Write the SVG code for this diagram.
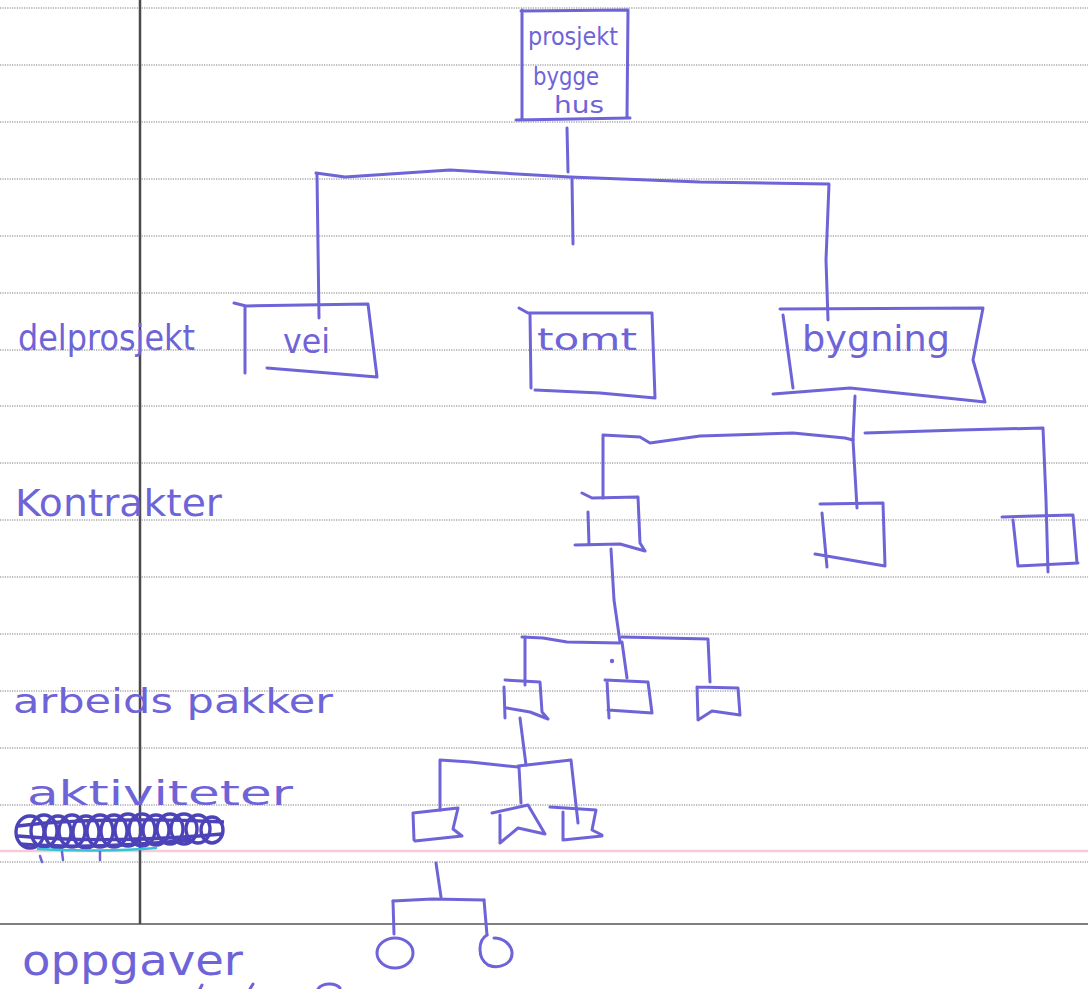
<svg xmlns="http://www.w3.org/2000/svg" width="1088" height="989" viewBox="0 0 1088 989">
  <style>
    .rule { stroke: #7a7a7a; stroke-width: 1; stroke-dasharray: 1.2 1.2; fill: none; }
    .pen { fill: none; stroke: #6e64d8; stroke-width: 3; stroke-linecap: round; stroke-linejoin: round; }
    .ink { fill: #6e64d8; font-family: "DejaVu Sans", "Noto Sans", sans-serif; }
    .scribble { fill: none; stroke: #4d43b8; stroke-width: 3.4; }
  </style>

  <!-- lined paper -->
  <g id="paper">
    <rect x="0" y="0" width="1088" height="989" fill="#ffffff"/>
    <path class="rule" d="M0,8H1088 M0,65H1088 M0,122H1088 M0,179H1088 M0,236H1088 M0,293H1088 M0,350H1088 M0,406H1088 M0,463H1088 M0,520H1088 M0,577H1088 M0,634H1088 M0,691H1088 M0,748H1088 M0,805H1088 M0,862H1088"/>
    <line x1="0" y1="851" x2="1088" y2="851" stroke="#f6cadb" stroke-width="2.5"/>
    <line x1="0" y1="924" x2="1088" y2="924" stroke="#555" stroke-width="1.5"/>
    <line x1="140" y1="0" x2="140" y2="924" stroke="#4a4a4a" stroke-width="2.5"/>
  </g>

  <!-- level names in the margin -->
  <g id="level-labels">
    <text class="ink" x="18" y="350" font-size="36" textLength="177" lengthAdjust="spacingAndGlyphs">delprosjekt</text>
    <text class="ink" x="15" y="516" font-size="38" textLength="207" lengthAdjust="spacingAndGlyphs">Kontrakter</text>
    <text class="ink" x="13" y="713" font-size="34" textLength="320" lengthAdjust="spacingAndGlyphs">arbeids pakker</text>
    <text class="ink" x="27" y="805" font-size="34" textLength="266" lengthAdjust="spacingAndGlyphs">aktiviteter</text>
    <text class="ink" x="22" y="975" font-size="42" textLength="221" lengthAdjust="spacingAndGlyphs">oppgaver</text>
  </g>

  <!-- crossed-out word -->
  <g id="scratch-out">
    <ellipse class="scribble" cx="30" cy="832" rx="14" ry="16"/>
    <ellipse class="scribble" cx="44" cy="831" rx="13" ry="16"/>
    <ellipse class="scribble" cx="58" cy="832" rx="13" ry="16"/>
    <ellipse class="scribble" cx="72" cy="831" rx="13" ry="16"/>
    <ellipse class="scribble" cx="86" cy="832" rx="13" ry="16"/>
    <ellipse class="scribble" cx="100" cy="831" rx="13" ry="16"/>
    <ellipse class="scribble" cx="114" cy="831" rx="13" ry="16"/>
    <ellipse class="scribble" cx="128" cy="830" rx="13" ry="16"/>
    <ellipse class="scribble" cx="142" cy="830" rx="13" ry="16"/>
    <ellipse class="scribble" cx="156" cy="830" rx="13" ry="15"/>
    <ellipse class="scribble" cx="170" cy="829" rx="13" ry="15"/>
    <ellipse class="scribble" cx="184" cy="829" rx="13" ry="15"/>
    <ellipse class="scribble" cx="198" cy="829" rx="12" ry="14"/>
    <ellipse class="scribble" cx="212" cy="830" rx="11" ry="13"/>
    <path class="scribble" d="M18,826 C60,820 150,818 224,822 M18,836 C80,842 160,840 222,834 M20,844 C70,848 130,846 190,840"/>
    <path d="M38,849 C70,851 120,851 156,848" fill="none" stroke="#35c4d4" stroke-width="2.5" stroke-linecap="round"/>
    <path d="M40,856 l2,6 M62,852 l1,8 M100,852 l0,8" fill="none" stroke="#6e64d8" stroke-width="2.5" stroke-linecap="round"/>
  </g>

  <!-- tree connectors -->
  <g id="connectors" class="pen">
    <!-- project to sub-projects -->
    <path d="M567,128 L568,172"/>
    <path d="M316,173 L345,177 L450,170 L570,177 L700,182 L828,184"/>
    <path d="M572,179 L573,244"/>
    <path d="M317,174 L319,318"/>
    <path d="M829,184 L826,260 L828,320"/>
    <!-- building to contracts -->
    <path d="M855,396 L853,440"/>
    <path d="M853,440 L845,438 L793,433 L700,436 L650,443 L640,437 L603,435 L603,498"/>
    <path d="M853,440 L857,508"/>
    <path d="M865,433 L960,430 L1043,428 L1046,500 L1048,572"/>
    <!-- contract to work packages -->
    <path d="M611,549 L614,600 L620,642"/>
    <path d="M620,643 L567,642 L543,638 L522,637"/>
    <path d="M525,637 L525,685"/>
    <path d="M622,637 L708,639 L710,682"/>
    <path d="M622,642 L627,678"/>
    <!-- work package to activities -->
    <path d="M520,718 L526,765"/>
    <path d="M518,767 L470,762 L440,760 L440,810"/>
    <path d="M518,766 L571,760 L578,823"/>
    <path d="M519,767 L521,803"/>
    <!-- activity to tasks -->
    <path d="M436,863 L441,897"/>
    <path d="M393,901 L432,899 L484,900"/>
    <path d="M393,901 L394,934"/>
    <path d="M484,900 L487,935"/>
  </g>

  <g id="node-root">
    <path class="pen" d="M521,11 L628,10 L627,117 M516,120 L630,118 M522,10 L522,120"/>
    <text class="ink" x="528" y="45" font-size="24" textLength="90" lengthAdjust="spacingAndGlyphs">prosjekt</text>
    <text class="ink" x="533" y="85" font-size="24" textLength="66" lengthAdjust="spacingAndGlyphs">bygge</text>
    <text class="ink" x="554" y="113" font-size="23" textLength="50" lengthAdjust="spacingAndGlyphs">hus</text>
  </g>

  <g id="node-vei">
    <path class="pen" d="M234,303 L246,306 L368,304 L377,377 M267,368 L377,377 M245,306 L245,373"/>
    <text class="ink" x="283" y="353" font-size="34" textLength="47" lengthAdjust="spacingAndGlyphs">vei</text>
  </g>

  <g id="node-tomt">
    <path class="pen" d="M519,308 L528,313 L652,313 L655,398 M535,390 L600,393 L655,398 M530,313 L531,388"/>
    <text class="ink" x="537" y="350" font-size="31" textLength="100" lengthAdjust="spacingAndGlyphs">tomt</text>
  </g>

  <g id="node-bygning">
    <path class="pen" d="M780,309 L983,308 L973,360 L985,402 M773,394 L850,388 L985,402 M783,315 L793,388"/>
    <text class="ink" x="802" y="351" font-size="36" textLength="148" lengthAdjust="spacingAndGlyphs">bygning</text>
  </g>

  <g id="node-kontrakt-1">
    <path class="pen" d="M582,493 L592,498 L638,497 L640,543 L645,551 M575,545 L620,544 L645,551 M588,512 L589,545"/>
  </g>
  <g id="node-kontrakt-2">
    <path class="pen" d="M820,504 L883,503 L885,565 M815,554 L885,566 M822,513 L827,567"/>
  </g>
  <g id="node-kontrakt-3">
    <path class="pen" d="M1002,517 L1073,515 L1077,563 M1018,566 L1078,563 M1013,520 L1018,566"/>
  </g>

  <g id="node-pakke-1">
    <path class="pen" d="M505,680 L540,682 L542,712 L548,719 M507,708 L530,712 L548,719 M504,687 L505,718"/>
  </g>
  <g id="node-pakke-2">
    <path class="pen" d="M605,680 L648,682 L652,713 M608,710 L652,713 M607,681 L609,718"/>
  </g>
  <g id="node-pakke-3">
    <path class="pen" d="M697,687 L738,688 L740,715 M698,720 L712,711 L740,715 M697,687 L698,720"/>
  </g>
  <circle cx="612" cy="661" r="2.2" fill="#6e64d8"/>

  <g id="node-aktivitet-1">
    <path class="pen" d="M413,813 L458,808 L453,829 L462,836 M415,841 L462,836 M413,813 L414,840"/>
  </g>
  <g id="node-aktivitet-2">
    <path class="pen" d="M492,813 L528,805 L545,834 M500,843 L518,828 L545,834 M500,815 L500,843"/>
  </g>
  <g id="node-aktivitet-3">
    <path class="pen" d="M550,807 L596,810 L592,830 L602,835 M563,840 L602,836 M563,812 L563,840"/>
  </g>

  <g id="node-oppgave-1">
    <ellipse class="pen" cx="395" cy="953" rx="18" ry="15"/>
  </g>
  <g id="node-oppgave-2">
    <path class="pen" d="M487,935 C478,940 477,958 488,965 C500,970 513,963 512,952 C511,944 503,938 494,938"/>
  </g>

  <!-- next line of writing, cut off at the page edge -->
  <path class="pen" d="M318,989 C322,983 335,982 340,988 M200,989 l2,-4 M250,989 l3,-5"/>
</svg>
